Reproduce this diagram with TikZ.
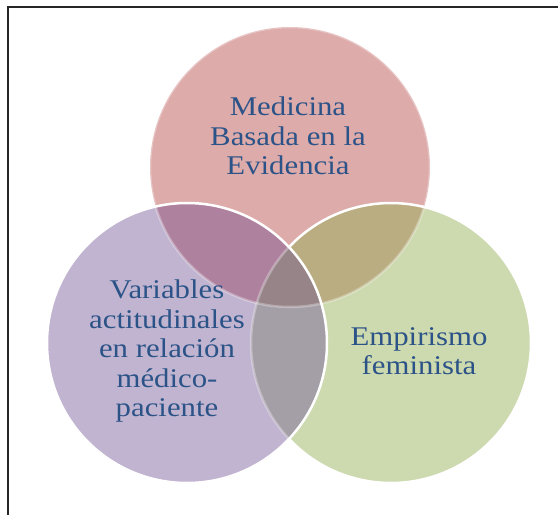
\documentclass[tikz,border=0pt]{standalone}
\usepackage{fontspec}
\setmainfont[FakeStretch=1.14]{Liberation Serif}
\definecolor{cR}{HTML}{DEABAB}
\definecolor{cG}{HTML}{CDD9AE}
\definecolor{cP}{HTML}{C1B4D0}
\definecolor{cRP}{HTML}{AE829F}
\definecolor{cRG}{HTML}{BBAD82}
\definecolor{cPG}{HTML}{A49EA6}
\definecolor{cRPG}{HTML}{978489}
\definecolor{txt}{HTML}{2B5387}
\begin{document}
\begin{tikzpicture}[x=1pt,y=-1pt,
  lbl/.style={align=center,text=txt,font=\fontsize{27}{29.5}\selectfont,inner sep=0pt},
  ring/.style={draw=white,line width=2.5pt}]
\useasboundingbox (0,0) rectangle (558,515);
\coordinate (R) at (290,167);
\coordinate (G) at (391,343);
\coordinate (P) at (187,343);
% base fills
\fill[cR] (R) circle (140pt);
\fill[cG] (G) circle (140pt);
\fill[cP] (P) circle (140pt);
% pairwise overlaps
\begin{scope}\clip (R) circle (140pt); \fill[cRG] (G) circle (140pt); \end{scope}
\begin{scope}\clip (R) circle (140pt); \fill[cRP] (P) circle (140pt); \end{scope}
\begin{scope}\clip (G) circle (140pt); \fill[cPG] (P) circle (140pt); \end{scope}
\begin{scope}\clip (R) circle (140pt); \clip (G) circle (140pt); \fill[cRPG] (P) circle (140pt); \end{scope}
% outlines
\draw[ring,draw opacity=0.3] (R) circle (140pt);
\draw[ring] (G) ++(-136.8:140pt) arc[start angle=-136.8,end angle=136.8,radius=140pt];
\draw[ring,draw opacity=0.3] (G) ++(136.8:140pt) arc[start angle=136.8,end angle=223.2,radius=140pt];
\draw[ring] (P) circle (140pt);
% frame
\draw[line width=1.5pt,black!85] (8,515) -- (8,7) -- (558,7);
% labels
\node[lbl] (tR) at (288,136) {Medicina\\Basada en la\\Evidencia};
\node[lbl] (tP) at (167,351.5) {Variables\\actitudinales\\en relación\\médico-\\paciente};
\node[lbl] (tG) at (419,351) {Empirismo\\feminista};
\end{tikzpicture}
\end{document}
